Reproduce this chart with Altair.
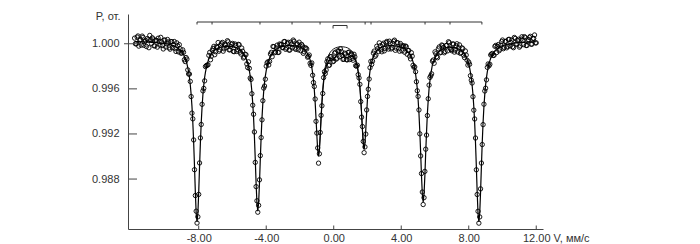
import altair as alt
import numpy as np
import pandas as pd

# ---- channel calibration (mm/s): two interleaved channel grids ----
V_START, V_HALF_START, V_STEP = -11.8, -11.75, 0.1

# fitted envelope, grid 1
fit_main = [
    1.00020, 1.00019, 1.00019, 1.00018, 1.00018, 1.00017, 1.00017, 1.00016, 1.00015, 1.00014,
    1.00013, 1.00012, 1.00011, 1.00010, 1.00009, 1.00007, 1.00006, 1.00004, 1.00002, 0.99999,
    0.99996, 0.99992, 0.99988, 0.99983, 0.99976, 0.99968, 0.99958, 0.99945, 0.99928, 0.99904,
    0.99872, 0.99824, 0.99752, 0.99636, 0.99445, 0.99127, 0.98684, 0.98420, 0.98684, 0.99125,
    0.99443, 0.99634, 0.99748, 0.99820, 0.99867, 0.99898, 0.99921, 0.99937, 0.99949, 0.99957,
    0.99964, 0.99969, 0.99972, 0.99975, 0.99976, 0.99977, 0.99976, 0.99975, 0.99973, 0.99970,
    0.99965, 0.99959, 0.99951, 0.99939, 0.99924, 0.99903, 0.99873, 0.99829, 0.99762, 0.99654,
    0.99475, 0.99178, 0.98763, 0.98516, 0.98763, 0.99178, 0.99475, 0.99655, 0.99762, 0.99830,
    0.99874, 0.99904, 0.99926, 0.99941, 0.99953, 0.99962, 0.99968, 0.99973, 0.99977, 0.99980,
    0.99982, 0.99983, 0.99984, 0.99984, 0.99983, 0.99981, 0.99979, 0.99976, 0.99971, 0.99964,
    0.99955, 0.99942, 0.99924, 0.99898, 0.99857, 0.99790, 0.99676, 0.99480, 0.99188, 0.99001,
    0.99183, 0.99470, 0.99660, 0.99766, 0.99821, 0.99847, 0.99855, 0.99856, 0.99866, 0.99885,
    0.99902, 0.99914, 0.99915, 0.99908, 0.99894, 0.99880, 0.99877, 0.99886, 0.99893, 0.99891,
    0.99877, 0.99846, 0.99790, 0.99687, 0.99507, 0.99236, 0.99064, 0.99239, 0.99513, 0.99697,
    0.99804, 0.99866, 0.99905, 0.99930, 0.99946, 0.99958, 0.99966, 0.99972, 0.99977, 0.99980,
    0.99982, 0.99983, 0.99984, 0.99983, 0.99982, 0.99981, 0.99978, 0.99974, 0.99970, 0.99963,
    0.99955, 0.99944, 0.99930, 0.99910, 0.99881, 0.99839, 0.99775, 0.99673, 0.99503, 0.99221,
    0.98829, 0.98594, 0.98828, 0.99220, 0.99502, 0.99671, 0.99773, 0.99836, 0.99878, 0.99906,
    0.99925, 0.99939, 0.99949, 0.99957, 0.99962, 0.99966, 0.99968, 0.99969, 0.99968, 0.99967,
    0.99964, 0.99960, 0.99954, 0.99945, 0.99934, 0.99918, 0.99896, 0.99864, 0.99818, 0.99747,
    0.99632, 0.99441, 0.99124, 0.98683, 0.98419, 0.98683, 0.99126, 0.99444, 0.99636, 0.99751,
    0.99824, 0.99871, 0.99904, 0.99928, 0.99945, 0.99958, 0.99968, 0.99976, 0.99983, 0.99988,
    0.99992, 0.99996, 0.99999, 1.00001, 1.00004, 1.00006, 1.00007, 1.00009, 1.00010, 1.00011,
    1.00012, 1.00013, 1.00014, 1.00015, 1.00016, 1.00016, 1.00017, 1.00018, 1.00018,
]

# measured transmission, grid 1
data_main = [
    1.00050, 0.99999, 1.00069, 1.00028, 0.99988, 1.00057, 1.00017, 0.99976, 1.00035, 1.00074,
    1.00003, 1.00042, 0.99981, 1.00030, 1.00049, 0.99987, 1.00016, 0.99954, 1.00032, 0.99999,
    1.00016, 0.99952, 1.00018, 0.99993, 0.99956, 1.00008, 0.99928, 0.99955, 0.99918, 0.99924,
    0.99842, 0.99864, 0.99732, 0.99666, 0.99385, 0.99147, 0.98654, 0.98410, 0.98664, 0.99165,
    0.99463, 0.99604, 0.99798, 0.99810, 0.99897, 0.99858, 0.99941, 0.99977, 0.99929, 0.99967,
    0.99934, 0.99989, 1.00012, 0.99955, 0.99986, 1.00027, 0.99946, 0.99975, 1.00003, 0.99930,
    0.99985, 0.99949, 0.99991, 0.99909, 0.99934, 0.99883, 0.99903, 0.99789, 0.99782, 0.99684,
    0.99455, 0.99218, 0.98733, 0.98506, 0.98793, 0.99168, 0.99495, 0.99625, 0.99802, 0.99840,
    0.99844, 0.99924, 0.99976, 0.99921, 0.99963, 0.99922, 0.99998, 0.99993, 0.99967, 1.00020,
    0.99962, 1.00013, 0.99944, 0.99994, 1.00033, 0.99961, 0.99999, 0.99946, 0.99981, 0.99994,
    0.99915, 0.99962, 0.99954, 0.99888, 0.99827, 0.99830, 0.99656, 0.99510, 0.99208, 0.98941,
    0.99213, 0.99450, 0.99700, 0.99736, 0.99841, 0.99807, 0.99885, 0.99866, 0.99846, 0.99925,
    0.99872, 0.99934, 0.99955, 0.99898, 0.99864, 0.99910, 0.99857, 0.99926, 0.99903, 0.99871,
    0.99907, 0.99806, 0.99810, 0.99697, 0.99487, 0.99266, 0.99034, 0.99199, 0.99533, 0.99687,
    0.99844, 0.99846, 0.99935, 0.99900, 0.99956, 1.00008, 0.99946, 0.99992, 0.99937, 1.00010,
    0.99972, 1.00023, 0.99954, 1.00003, 1.00032, 0.99961, 1.00008, 0.99934, 0.99980, 0.99983,
    0.99925, 0.99974, 0.99940, 0.99890, 0.99921, 0.99809, 0.99795, 0.99663, 0.99533, 0.99201,
    0.98849, 0.98574, 0.98868, 0.99190, 0.99512, 0.99701, 0.99733, 0.99856, 0.99928, 0.99886,
    0.99955, 0.99919, 0.99989, 0.99967, 0.99932, 0.99986, 1.00018, 0.99959, 0.99938, 0.99997,
    0.99944, 1.00000, 0.99964, 0.99915, 0.99964, 0.99898, 0.99936, 0.99854, 0.99838, 0.99717,
    0.99652, 0.99411, 0.99164, 0.98663, 0.98409, 0.98713, 0.99106, 0.99464, 0.99606, 0.99791,
    0.99804, 0.99901, 0.99914, 0.99898, 0.99985, 0.99978, 0.99938, 0.99986, 1.00033, 0.99968,
    1.00022, 0.99976, 1.00039, 1.00011, 0.99974, 1.00056, 0.99997, 1.00029, 0.99970, 1.00041,
    1.00032, 1.00063, 0.99984, 1.00025, 1.00056, 0.99996, 1.00047, 1.00078, 1.00008,
]

# fitted envelope, grid 2 (interleaved channels)
fit_half = [
    1.00020, 1.00019, 1.00019, 1.00018, 1.00018, 1.00017, 1.00017, 1.00016, 1.00015, 1.00014,
    1.00013, 1.00012, 1.00011, 1.00010, 1.00008, 1.00007, 1.00005, 1.00003, 1.00001, 0.99998,
    0.99994, 0.99990, 0.99986, 0.99980, 0.99972, 0.99963, 0.99952, 0.99937, 0.99916, 0.99888,
    0.99848, 0.99788, 0.99701, 0.99552, 0.99304, 0.98913, 0.98495, 0.98495, 0.98913, 0.99304,
    0.99552, 0.99701, 0.99786, 0.99844, 0.99883, 0.99910, 0.99929, 0.99943, 0.99953, 0.99961,
    0.99967, 0.99971, 0.99974, 0.99976, 0.99977, 0.99977, 0.99976, 0.99974, 0.99972, 0.99968,
    0.99962, 0.99955, 0.99945, 0.99932, 0.99914, 0.99888, 0.99851, 0.99800, 0.99716, 0.99577,
    0.99345, 0.98978, 0.98587, 0.98587, 0.98978, 0.99345, 0.99577, 0.99716, 0.99800, 0.99852,
    0.99889, 0.99915, 0.99934, 0.99947, 0.99958, 0.99965, 0.99971, 0.99975, 0.99979, 0.99981,
    0.99983, 0.99984, 0.99984, 0.99984, 0.99982, 0.99980, 0.99978, 0.99974, 0.99968, 0.99960,
    0.99949, 0.99933, 0.99911, 0.99880, 0.99828, 0.99741, 0.99591, 0.99342, 0.99056, 0.99054,
    0.99335, 0.99579, 0.99722, 0.99797, 0.99836, 0.99851, 0.99856, 0.99861, 0.99876, 0.99894,
    0.99908, 0.99915, 0.99912, 0.99901, 0.99887, 0.99879, 0.99882, 0.99890, 0.99892, 0.99884,
    0.99864, 0.99821, 0.99746, 0.99610, 0.99379, 0.99114, 0.99115, 0.99383, 0.99617, 0.99758,
    0.99837, 0.99887, 0.99918, 0.99938, 0.99952, 0.99962, 0.99969, 0.99975, 0.99979, 0.99981,
    0.99983, 0.99984, 0.99984, 0.99983, 0.99982, 0.99980, 0.99976, 0.99972, 0.99967, 0.99959,
    0.99950, 0.99937, 0.99920, 0.99896, 0.99860, 0.99812, 0.99732, 0.99603, 0.99383, 0.99035,
    0.98665, 0.98665, 0.99035, 0.99383, 0.99603, 0.99736, 0.99816, 0.99857, 0.99892, 0.99916,
    0.99932, 0.99944, 0.99953, 0.99960, 0.99964, 0.99967, 0.99969, 0.99969, 0.99968, 0.99966,
    0.99962, 0.99957, 0.99950, 0.99940, 0.99926, 0.99907, 0.99880, 0.99841, 0.99788, 0.99697,
    0.99551, 0.99303, 0.98912, 0.98494, 0.98494, 0.98912, 0.99303, 0.99551, 0.99700, 0.99791,
    0.99848, 0.99888, 0.99916, 0.99937, 0.99952, 0.99963, 0.99972, 0.99980, 0.99986, 0.99990,
    0.99994, 0.99998, 1.00000, 1.00003, 1.00005, 1.00007, 1.00008, 1.00010, 1.00011, 1.00012,
    1.00013, 1.00014, 1.00015, 1.00016, 1.00016, 1.00017, 1.00018, 1.00018,
]

# measured transmission, grid 2
data_half = [
    1.00000, 1.00059, 0.99979, 1.00038, 1.00068, 0.99987, 1.00027, 1.00046, 0.99965, 1.00034,
    1.00053, 0.99982, 1.00031, 0.99970, 1.00018, 1.00057, 0.99985, 1.00033, 0.99971, 1.00038,
    0.99964, 1.00020, 0.99966, 1.00020, 0.99932, 0.99983, 0.99992, 0.99917, 0.99946, 0.99858,
    0.99878, 0.99768, 0.99731, 0.99532, 0.99334, 0.98883, 0.98515, 0.98465, 0.98943, 0.99284,
    0.99582, 0.99671, 0.99806, 0.99814, 0.99923, 0.99890, 0.99959, 0.99903, 0.99973, 1.00011,
    0.99947, 1.00001, 0.99934, 0.99996, 0.99967, 1.00017, 0.99946, 0.99994, 0.99932, 0.99998,
    0.99932, 0.99995, 0.99925, 0.99962, 0.99874, 0.99908, 0.99821, 0.99840, 0.99696, 0.99557,
    0.99375, 0.98948, 0.98607, 0.98567, 0.99008, 0.99325, 0.99607, 0.99686, 0.99830, 0.99812,
    0.99909, 0.99885, 0.99974, 0.99927, 0.99988, 0.99925, 0.99991, 0.99965, 1.00019, 0.99951,
    1.00003, 0.99944, 1.00014, 0.99964, 1.00022, 0.99950, 0.99998, 1.00014, 0.99938, 0.99980,
    0.99929, 0.99963, 0.99881, 0.99900, 0.99808, 0.99721, 0.99621, 0.99312, 0.99076, 0.99024,
    0.99365, 0.99559, 0.99752, 0.99767, 0.99866, 0.99811, 0.99886, 0.99841, 0.99916, 0.99864,
    0.99938, 0.99885, 0.99932, 0.99861, 0.99917, 0.99859, 0.99922, 0.99860, 0.99912, 0.99854,
    0.99884, 0.99801, 0.99726, 0.99640, 0.99349, 0.99134, 0.99085, 0.99413, 0.99597, 0.99788,
    0.99817, 0.99917, 0.99888, 0.99978, 0.99932, 0.99982, 0.99929, 1.00005, 0.99959, 1.00021,
    0.99953, 1.00004, 0.99964, 1.00023, 0.99942, 1.00010, 0.99956, 1.00002, 0.99937, 0.99979,
    0.99980, 0.99907, 0.99940, 0.99866, 0.99890, 0.99792, 0.99752, 0.99583, 0.99413, 0.99005,
    0.98685, 0.98635, 0.99065, 0.99363, 0.99633, 0.99716, 0.99846, 0.99827, 0.99912, 0.99876,
    0.99972, 0.99924, 0.99983, 0.99920, 0.99984, 0.99937, 1.00009, 0.99949, 0.99998, 0.99926,
    0.99982, 0.99927, 0.99990, 0.99920, 0.99956, 0.99877, 0.99900, 0.99811, 0.99818, 0.99677,
    0.99531, 0.99333, 0.98882, 0.98514, 0.98464, 0.98942, 0.99283, 0.99581, 0.99680, 0.99821,
    0.99818, 0.99908, 0.99896, 0.99977, 0.99922, 0.99993, 0.99952, 1.00020, 0.99956, 1.00020,
    0.99964, 1.00038, 0.99980, 1.00033, 0.99965, 1.00047, 0.99998, 1.00040, 0.99981, 1.00062,
    0.99993, 1.00054, 0.99985, 1.00036, 1.00066, 0.99997, 1.00048, 1.00008,
]

# sextet sub-spectrum in the central part (without the doublet)
sub_v = [-0.9, -0.85, -0.8, -0.75, -0.7, -0.65, -0.6, -0.55, -0.5, -0.4, -0.3, -0.2,
         -0.1, 0.0, 0.1, 0.2, 0.3, 0.4, 0.5, 0.6, 0.7, 0.8, 0.9, 1.0, 1.1, 1.2, 1.3,
         1.4, 1.45, 1.5, 1.55, 1.6, 1.65, 1.7, 1.75, 1.8]
sub_p = [0.99012, 0.99066, 0.99197, 0.99350, 0.99487, 0.99598, 0.99682, 0.99747,
         0.99795, 0.99860, 0.99900, 0.99926, 0.99943, 0.99955, 0.99963, 0.99968,
         0.99972, 0.99973, 0.99974, 0.99972, 0.99969, 0.99965, 0.99957, 0.99946,
         0.99930, 0.99906, 0.99868, 0.99807, 0.99762, 0.99701, 0.99622, 0.99518,
         0.99389, 0.99245, 0.99122, 0.99072]

# stick diagram of line positions and doublet bracket
stick_v = [-8.10, -7.21, -4.37, -2.47, -0.81, 1.86, 2.21, 5.41, 6.89, 8.78]
stick_span = [-8.10, 8.78]
doublet_v = [-0.04, 0.79]

x_ticks = [-8, -4, 0, 4, 8, 12]
y_ticks = [0.988, 0.992, 0.996, 1.000]

# ---------------- build tables ----------------
v_main = np.round(V_START + V_STEP * np.arange(len(fit_main)), 2)
v_half = np.round(V_HALF_START + V_STEP * np.arange(len(fit_half)), 2)
pts = pd.DataFrame({"v": list(v_main) + list(v_half), "p": data_main + data_half})
fit = pd.DataFrame({"v": list(v_main) + list(v_half),
                    "p": fit_main + fit_half}).sort_values("v")
sub = pd.DataFrame({"v": sub_v, "p": sub_p})

XMIN, XMAX = -12.19, 12.40
YMIN, YMAX = 0.98357, 1.00264
PX_X = 415 / (XMAX - XMIN)
PX_Y = 215 / (YMAX - YMIN)

STICK_Y = 1.00193
sticks_h = pd.DataFrame({"v": [stick_span[0]], "v2": [stick_span[1]], "p": [STICK_Y]})
sticks_t = pd.DataFrame({"v": stick_v, "p": [STICK_Y] * len(stick_v),
                         "p2": [STICK_Y - 2.5 / PX_Y] * len(stick_v)})
BR_TOP = 1.00162
br_h = pd.DataFrame({"v": [doublet_v[0]], "v2": [doublet_v[1]], "p": [BR_TOP]})
br_t = pd.DataFrame({"v": doublet_v, "p": [BR_TOP] * 2, "p2": [BR_TOP - 3 / PX_Y] * 2})

xt = pd.DataFrame({"v": x_ticks, "p": [YMIN] * len(x_ticks),
                   "p2": [YMIN + 3.5 / PX_Y] * len(x_ticks)})
yt = pd.DataFrame({"v": [XMIN] * len(y_ticks), "v2": [XMIN + 9 / PX_X] * len(y_ticks),
                   "p": y_ticks})
yt_out = pd.DataFrame({"v": [XMIN - 4 / PX_X], "v2": [XMIN], "p": [1.000]})

FONT = "Liberation Sans"
TXT = "#333333"

xscale = alt.Scale(domain=[XMIN, XMAX], nice=False, zero=False)
yscale = alt.Scale(domain=[YMIN, YMAX], nice=False, zero=False)

xaxis = alt.Axis(values=x_ticks, ticks=False, tickSize=0, grid=False,
                 labelExpr="(datum.value < 0 ? '-' : '') + format(abs(datum.value), '.2f')",
                 labelFont=FONT, labelFontSize=11, labelColor=TXT,
                 labelBaseline="alphabetic", labelPadding=12,
                 domainColor="#444444", domainWidth=1,
                 title="V, мм/с", titleFont=FONT, titleFontSize=11, titleFontWeight="normal",
                 titleColor=TXT, titleX=425, titleY=12, titleAlign="left",
                 titleBaseline="alphabetic", labelFlush=False)
yaxis = alt.Axis(values=y_ticks, format=".3f", ticks=False, tickSize=0, grid=False,
                 labelFont=FONT, labelFontSize=11, labelColor=TXT, labelPadding=9,
                 domainColor="#444444", domainWidth=1,
                 title="P, от.", titleFont=FONT, titleFontSize=11, titleFontWeight="normal",
                 titleColor=TXT, titleAngle=0, titleX=-8, titleY=5, titleAlign="right",
                 titleBaseline="alphabetic")


def X(field="v"):
    return alt.X(f"{field}:Q", scale=xscale, axis=xaxis)


def Y(field="p"):
    return alt.Y(f"{field}:Q", scale=yscale, axis=yaxis)


points = alt.Chart(pts).mark_point(shape="circle", filled=False, size=19,
                                   strokeWidth=0.9, color="black", opacity=1).encode(
    x=X(), y=Y())
fit_line = alt.Chart(fit).mark_line(color="black", strokeWidth=1.2).encode(x=X(), y=Y())
sub_line = alt.Chart(sub).mark_line(color="black", strokeWidth=0.9).encode(x=X(), y=Y())

stick_line = alt.Chart(sticks_h).mark_rule(color="#333333", strokeWidth=1).encode(
    x=X(), x2="v2:Q", y=Y())
stick_ticks = alt.Chart(sticks_t).mark_rule(color="#333333", strokeWidth=1).encode(
    x=X(), y=Y(), y2="p2:Q")
br_line = alt.Chart(br_h).mark_rule(color="#333333", strokeWidth=1).encode(
    x=X(), x2="v2:Q", y=Y())
br_ticks = alt.Chart(br_t).mark_rule(color="#333333", strokeWidth=1).encode(
    x=X(), y=Y(), y2="p2:Q")
xtick_m = alt.Chart(xt).mark_rule(color="#444444", strokeWidth=1).encode(
    x=X(), y=Y(), y2="p2:Q")
ytick_m = alt.Chart(yt).mark_rule(color="#444444", strokeWidth=1).encode(
    x=X(), x2="v2:Q", y=Y())
ytick_o = alt.Chart(yt_out).mark_rule(color="#444444", strokeWidth=1).encode(
    x=X(), x2="v2:Q", y=Y())

chart = alt.layer(points, fit_line, sub_line, stick_line, stick_ticks, br_line, br_ticks,
                  xtick_m, ytick_m, ytick_o).properties(
    width=415, height=215, autosize="none",
    padding={"left": 128, "top": 14, "right": 157, "bottom": 15},
    background="white",
).configure_view(stroke=None)

chart.save("out.html", embed_options={"renderer": "svg", "actions": False})
